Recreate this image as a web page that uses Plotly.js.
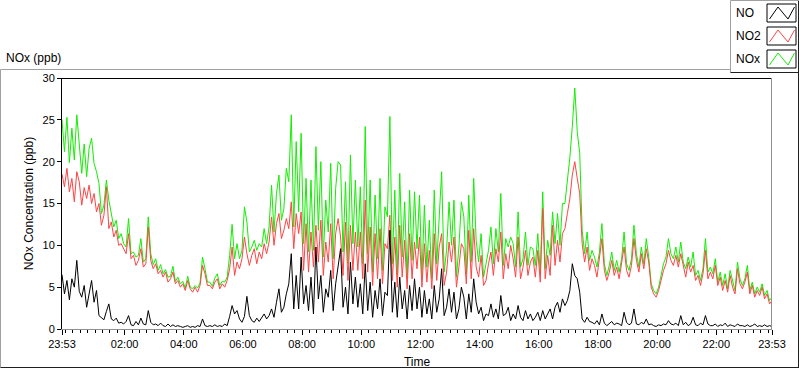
<!DOCTYPE html>
<html><head><meta charset="utf-8">
<script src="https://cdn.plot.ly/plotly-3.0.1.min.js"></script>
<style>html,body{margin:0;padding:0;background:#fff;}#chart{width:800px;height:369px;}</style>
</head><body><div id="chart"></div>
<script>
// Sampling: one reading every 5 minutes from 23:53 to 23:53 next day
const startTime = '2000-01-01 23:53:00';
const endTime = '2000-01-02 23:53:00';
const stepMs = 300000;

const tickTimes = ['2000-01-01 23:53','2000-01-02 02:00','2000-01-02 04:00','2000-01-02 06:00','2000-01-02 08:00','2000-01-02 10:00','2000-01-02 12:00','2000-01-02 14:00','2000-01-02 16:00','2000-01-02 18:00','2000-01-02 20:00','2000-01-02 22:00','2000-01-02 23:53'];
const tickLabels = ['23:53','02:00','04:00','06:00','08:00','10:00','12:00','14:00','16:00','18:00','20:00','22:00','23:53'];
const yTicks = [0,5,10,15,20,25,30];
const seriesNames = ['NO','NO2','NOx'];

const noValues = [
6.5,4.2,5.8,3.5,6.0,5.0,8.2,4.5,3.8,5.2,2.6,4.4,
5.8,3.2,4.6,1.6,1.3,1.1,2.1,3.0,1.2,1.0,1.3,0.7,
0.8,0.6,0.9,1.6,0.5,0.4,0.9,0.5,1.3,0.6,0.5,2.2,
0.8,0.5,0.6,0.4,0.7,0.4,0.3,0.6,0.3,0.5,0.3,0.4,
0.3,0.2,0.3,0.4,0.2,0.3,0.2,0.4,0.3,1.2,0.4,0.3,
0.4,0.3,0.5,0.3,0.4,0.3,0.6,0.4,1.5,2.8,1.8,2.2,
1.2,0.8,1.5,3.9,1.6,1.0,0.8,1.3,0.9,1.4,1.8,1.2,
1.6,2.4,1.4,3.2,4.8,2.0,2.6,4.2,5.4,9.0,2.4,6.4,
2.4,8.6,3.0,5.2,2.2,6.2,1.8,9.8,3.6,6.4,2.0,4.8,
3.8,7.0,2.2,5.4,7.8,9.6,2.6,5.0,1.8,8.0,3.0,6.2,
2.6,5.4,1.8,7.8,2.2,5.6,1.4,4.6,2.4,6.0,1.6,4.4,
4.0,11.8,2.0,5.6,1.4,6.2,2.4,4.6,1.2,5.2,2.2,6.0,
2.4,5.0,1.4,4.6,1.8,3.6,1.2,5.2,2.0,3.6,7.2,1.6,
2.6,4.8,2.0,4.4,1.2,2.4,5.0,3.8,1.2,4.2,2.0,6.0,
3.2,1.8,2.6,1.0,1.8,1.6,3.0,1.4,2.4,1.2,4.0,1.6,
1.8,2.6,1.0,1.8,1.2,2.8,1.4,1.0,2.2,1.2,1.8,1.0,
1.4,2.0,1.0,2.2,1.2,1.8,2.4,1.2,2.6,3.2,2.0,3.6,
2.8,3.4,4.6,7.8,6.4,6.0,4.4,1.2,0.8,1.4,0.9,0.8,
0.6,1.0,0.5,1.8,0.7,0.4,0.6,0.9,0.5,0.7,0.6,0.4,
2.0,0.8,0.5,0.7,2.4,0.6,0.5,0.8,0.6,1.2,0.5,0.6,
0.4,0.3,0.5,0.4,0.6,0.5,1.0,0.6,0.5,0.7,0.4,1.6,
0.5,0.8,0.4,0.6,1.4,0.5,0.4,0.7,0.5,1.6,0.6,0.4,
0.4,0.6,0.3,0.5,0.4,0.7,0.3,0.5,0.4,0.3,0.6,0.4,
0.4,0.3,0.5,0.3,0.4,0.6,0.3,0.4,0.3,0.5,0.3,0.4,0.3
];

const no2Values = [
18.5,17.0,19.2,16.4,18.0,15.2,18.8,17.6,14.8,16.9,15.6,17.2,
15.0,16.2,14.0,15.0,12.4,13.6,17.0,12.0,12.8,11.0,11.8,10.0,
10.2,9.6,9.0,11.4,8.4,8.8,7.6,8.2,9.6,7.4,7.8,12.2,
8.2,7.2,7.8,6.6,7.0,6.2,6.8,5.6,6.0,6.8,5.4,5.8,
5.0,5.4,4.6,5.8,4.8,4.4,5.0,4.4,5.2,7.6,6.6,5.2,
5.2,4.8,5.6,6.0,4.8,5.4,5.0,5.8,7.2,9.8,6.4,8.0,
7.2,8.4,11.0,9.0,7.6,8.8,9.6,7.8,9.2,8.4,10.2,9.0,
10.4,13.4,10.0,12.6,13.8,10.8,11.8,13.2,12.0,15.2,9.6,13.8,
11.4,14.0,7.0,12.6,6.8,11.6,7.4,12.4,8.0,13.0,6.4,10.4,
8.0,12.6,6.0,11.4,13.2,11.0,6.4,12.8,5.8,12.4,7.0,11.6,
7.0,11.6,6.0,15.4,6.8,12.2,5.2,11.4,6.0,12.0,5.4,10.2,
9.6,13.6,5.8,11.0,5.0,12.4,6.2,10.6,4.8,11.4,6.0,10.4,
7.2,11.0,5.0,10.2,5.6,9.4,4.8,11.4,5.8,9.8,11.4,5.2,
6.8,10.4,8.0,11.0,5.0,7.4,10.2,9.6,5.4,11.8,6.0,12.0,
7.4,6.2,8.8,5.2,5.8,7.8,9.2,6.4,9.6,8.0,11.6,6.0,
9.0,7.2,10.0,8.4,6.2,11.0,6.0,7.4,9.4,6.4,8.0,8.6,
6.2,9.4,5.6,14.4,6.0,8.8,6.4,12.4,7.6,10.6,8.0,11.4,
12.0,13.8,15.6,18.4,20.0,18.0,16.2,10.2,8.0,9.8,7.0,8.4,
7.6,6.2,8.4,10.8,7.0,5.8,6.8,8.2,6.4,7.4,6.0,7.8,
9.8,7.0,6.2,7.6,10.8,8.2,6.8,9.0,7.2,9.6,8.0,5.0,
4.2,3.8,4.6,5.8,7.0,7.8,9.4,8.2,7.6,8.8,7.4,9.0,
7.4,6.2,8.0,6.8,7.6,5.8,6.4,5.2,6.6,9.4,6.0,6.8,
6.0,7.6,5.2,6.2,4.6,5.8,4.4,6.4,5.0,4.2,7.2,5.4,
4.8,5.6,6.8,4.2,5.2,3.8,4.6,4.0,5.0,3.6,4.2,3.0,3.4
];

const noxValues = [
25.0,21.2,25.3,19.9,24.0,20.2,25.6,22.0,18.6,22.1,18.2,21.6,
22.8,19.8,18.8,17.4,13.8,14.8,17.8,15.4,14.0,12.2,13.0,10.8,
11.4,10.2,9.8,13.2,9.0,9.2,8.6,8.8,10.8,8.0,8.4,13.4,
9.0,7.7,8.4,7.0,7.7,6.6,7.1,6.2,6.3,7.5,5.7,6.2,
5.4,5.7,4.9,6.3,5.0,4.8,5.2,4.9,5.5,8.6,7.2,5.6,
5.6,5.1,6.1,6.6,5.2,5.7,5.6,6.2,8.8,12.5,8.4,10.2,
8.4,9.4,14.6,12.8,9.2,9.8,10.6,9.4,10.2,9.8,12.0,10.2,
12.2,17.2,11.6,16.2,18.4,13.0,14.4,19.2,17.6,25.6,12.2,22.4,
14.0,23.4,10.2,18.0,9.2,17.8,9.4,21.8,11.8,20.0,8.6,15.4,
11.6,19.8,8.4,16.8,20.0,19.6,9.2,17.6,7.8,20.8,10.2,17.8,
9.8,17.0,7.8,24.2,9.0,17.8,6.8,16.0,8.4,18.0,7.0,14.6,
13.4,25.4,7.8,16.6,6.4,18.6,8.6,15.2,6.0,16.6,8.2,16.4,
9.6,16.0,6.4,14.8,7.4,13.0,6.0,16.6,7.8,13.4,18.8,6.8,
9.4,15.2,10.0,15.4,6.2,9.8,15.2,13.4,6.6,16.0,8.0,18.0,
10.6,8.0,11.4,6.2,7.6,9.4,12.2,7.8,12.0,9.2,16.2,7.6,
10.8,9.8,11.0,10.2,7.4,14.0,7.4,8.4,11.6,7.6,9.8,9.6,
7.6,11.4,6.6,16.4,7.2,10.6,8.8,14.0,10.2,13.8,10.0,15.0,
15.0,17.5,20.5,24.2,28.8,23.6,21.0,11.8,9.0,11.6,8.2,9.4,
8.6,7.4,9.2,12.6,7.8,6.4,7.6,9.2,7.0,8.2,6.8,8.4,
11.6,7.8,7.0,8.4,12.4,9.0,7.4,9.8,7.8,10.8,8.6,5.4,
4.6,4.2,5.0,6.4,7.8,8.6,10.8,9.0,8.4,9.8,8.0,10.4,
8.0,7.2,8.6,7.4,9.2,6.4,7.0,5.8,7.2,10.8,6.8,7.4,
6.6,8.4,5.6,6.8,5.2,6.6,4.8,7.0,5.6,4.6,8.0,6.0,
5.2,6.0,7.6,4.6,5.6,4.2,5.0,4.4,5.4,4.0,4.6,3.4,3.8
];

const colors = {NO:'#000000', NO2:'#ff4444', NOx:'#11ee00'};

// pixel -> paper helpers (plot area is 62..772 x 78..329)
const L = 62, R = 772, T = 78, B = 329;
const px = x => (x - L) / (R - L);
const py = y => (B - y) / (B - T);

function mk(name, vals) {
  return {type:'scatter', mode:'lines', name:name, x0:startTime, dx:stepMs, y:vals,
    line:{color:colors[name], width:1}, hoverinfo:'skip'};
}
const traces = [mk('NOx', noxValues), mk('NO2', no2Values), mk('NO', noValues)];

function line(x0,y0,x1,y1,color){
  return {type:'line', xref:'paper', yref:'paper', x0:px(x0), y0:py(y0), x1:px(x1), y1:py(y1), line:{color:color, width:1}};
}
const shapes = [
  line(62,78.5,772,78.5,'#000'),
  line(771.5,78,771.5,329,'#909090'),
  line(0.5,69.5,730,69.5,'#a0a0a0'),
  line(0.5,69.5,0.5,367.5,'#a0a0a0'),
  line(0.5,367.5,799,367.5,'#202020'),
  line(798.5,0,798.5,367.5,'#202020'),
  line(730.5,0.5,799,0.5,'#a0a0a0'),
  line(730.5,0.5,730.5,72.5,'#a0a0a0'),
  line(730.5,72.5,799,72.5,'#202020')
];
const legendRows = [13, 36, 59];
seriesNames.forEach((n, k) => {
  const cy = legendRows[k];
  const y0 = cy - 9, y1 = cy + 9;
  shapes.push({type:'rect', xref:'paper', yref:'paper', x0:px(767), x1:px(796), y0:py(y1), y1:py(y0), line:{color:'#000', width:1}, fillcolor:'#fff'});
  const pts = [[769.5, y1-3],[778, y0+3],[788, y1-3],[794.5, y0+3]];
  const path = 'M ' + pts.map(p => px(p[0]) + ',' + py(p[1])).join(' L ');
  shapes.push({type:'path', xref:'paper', yref:'paper', path:path, line:{color:colors[n], width:1}});
});

const annotations = [
  {text:'NOx (ppb)', xref:'paper', yref:'paper', x:px(4), y:py(58), xanchor:'left', yanchor:'middle', showarrow:false, font:{size:12, color:'#000'}}
];
seriesNames.forEach((n, k) => {
  annotations.push({text:n, xref:'paper', yref:'paper', x:px(734), y:py(legendRows[k]), xanchor:'left', yanchor:'middle', showarrow:false, font:{size:12, color:'#000'}});
});

const layout = {
  width:800, height:369,
  margin:{l:L, r:800-R, t:T, b:369-B, pad:0},
  paper_bgcolor:'#fff', plot_bgcolor:'#fff',
  showlegend:false,
  font:{family:'"Liberation Sans", Arial, sans-serif', size:11, color:'#000'},
  xaxis:{type:'date', range:[startTime, endTime], tickmode:'array', tickvals:tickTimes, ticktext:tickLabels,
    ticks:'outside', ticklen:5, tickcolor:'#000', tickwidth:1,
    showline:true, linecolor:'#909090', linewidth:1, showgrid:false, zeroline:false,
    tickfont:{size:11},
    minor:{tickmode:'linear', tick0:'2000-01-02 00:00', dtick:900000, ticks:'outside', ticklen:3, tickcolor:'#000', tickwidth:1, showgrid:false},
    title:{text:'Time', font:{size:12}, standoff:8}, automargin:false, fixedrange:true},
  yaxis:{range:[0,30], tickmode:'array', tickvals:yTicks, ticks:'outside', ticklen:4, tickcolor:'#000', tickwidth:1,
    showline:true, linecolor:'#000', linewidth:1, showgrid:false, zeroline:false, tickfont:{size:11},
    title:{text:'NOx Concentration (ppb)', font:{size:12}, standoff:6}, automargin:false, fixedrange:true},
  shapes:shapes, annotations:annotations
};

Plotly.newPlot('chart', traces, layout, {staticPlot:true, displayModeBar:false});
</script>
</body></html>
